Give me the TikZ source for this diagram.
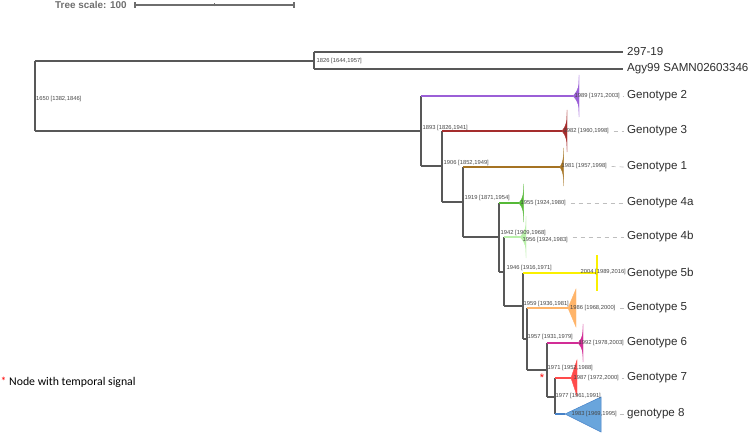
\documentclass[tikz,border=0pt]{standalone}
\usepackage{fontspec}
\setmainfont{Liberation Sans}
\newfontfamily\legendfont{Carlito}
\definecolor{treegray}{RGB}{88,88,88}
\definecolor{lblgray}{RGB}{70,70,70}
\definecolor{tipgray}{RGB}{45,45,45}
\definecolor{guidegray}{RGB}{190,190,190}
\definecolor{scalegray}{RGB}{110,110,110}
\definecolor{cTwo}{RGB}{155,95,215}
\definecolor{cThree}{RGB}{165,45,45}
\definecolor{cOne}{RGB}{165,115,35}
\definecolor{cFourA}{RGB}{85,185,55}
\definecolor{cFourB}{RGB}{185,240,170}
\definecolor{cFiveB}{RGB}{250,240,0}
\definecolor{cFive}{RGB}{255,180,105}
\definecolor{cSix}{RGB}{210,45,150}
\definecolor{cSeven}{RGB}{255,75,75}
\definecolor{cEight}{RGB}{105,165,220}
\definecolor{cEightLine}{RGB}{70,130,200}
\tikzset{
  branch/.style={draw=treegray, line width=1.2pt},
  cbranch/.style={line width=1.2pt},
  small/.style={font=\fontsize{5.8}{6}\selectfont, text=lblgray, inner sep=0.5pt, anchor=west},
  tiptext/.style={font=\fontsize{11.6}{13}\selectfont, text=tipgray, inner sep=0pt, anchor=west},
  guide/.style={draw=guidegray, dash pattern=on 4pt off 4pt, line width=0.7pt},
}
% spike-shaped collapsed clade: apex, width, half-height
\newcommand{\spikeclade}[4]{%
  \filldraw[fill=#4, draw=#4, line width=0.4pt, line join=round] (#1) .. controls +(#2,-0.3*#3) and +(0,0.55*#3) .. ++(#2,-#3)
     -- ++(0,2*#3) .. controls +(0,-0.55*#3) and +(#2,0.3*#3) .. (#1) -- cycle;}
\newcommand{\triclade}[4]{%
  \filldraw[fill=#4, draw=#4, line width=0.4pt] (#1) -- ++(#2,-#3) -- ++(0,2*#3) -- cycle;}
\begin{document}
\begin{tikzpicture}[x=1pt,y=-1pt]
\useasboundingbox (0,0) rectangle (750,433);
% tree scale
\node[font=\fontsize{9.9}{11}\selectfont\bfseries, text=scalegray, anchor=west, inner sep=0pt] (scale) at (55,5) {Tree scale: 100};
\coordinate (sA) at (135,5);
\coordinate (sB) at (294,5);
\coordinate (sM) at (214.5,5);
\draw[draw=scalegray, line width=1.1pt] (sA) -- (sB);
\draw[draw=scalegray, line width=1.1pt] ([yshift=-3pt]sA) -- ([yshift=3pt]sA);
\draw[draw=scalegray, line width=1.1pt] ([yshift=-3pt]sB) -- ([yshift=3pt]sB);
\draw[draw=scalegray, line width=0.8pt] ([yshift=-1.5pt]sM) -- ([yshift=1.5pt]sM);

% internal nodes
\coordinate (root) at (35,96);
\coordinate (nOut) at (314,61);
\coordinate (nA) at (421,131);
\coordinate (nB) at (442,166);
\coordinate (nC) at (463,202);
\coordinate (nD) at (499,237);
\coordinate (nE) at (504,272);
\coordinate (nF) at (523,306);
\coordinate (nG) at (527,339);
\coordinate (nH) at (547,370);
\coordinate (nI) at (555,397);
% leaves (clade apexes)
\coordinate (t297) at (623,52);
\coordinate (tAgy) at (623,69);
\coordinate (g2) at (573,96);
\coordinate (g3) at (562,131);
\coordinate (g1) at (560,167);
\coordinate (g4a) at (519,203);
\coordinate (g4b) at (520,237);
\coordinate (g5b) at (597,273);
\coordinate (g5) at (568,308);
\coordinate (g6) at (578,343);
\coordinate (g7) at (571,378);
\coordinate (g8) at (565,414);

% vertical (gray) parts
\draw[branch] (root|-nOut) -- (root|-nA);
\draw[branch] (nOut|-t297) -- (nOut|-tAgy);
\draw[branch] (nA|-g2) -- (nA|-nB);
\draw[branch] (nB|-g3) -- (nB|-nC);
\draw[branch] (nC|-g1) -- (nC|-nD);
\draw[branch] (nD|-g4a) -- (nD|-nE);
\draw[branch] (nE|-g4b) -- (nE|-nF);
\draw[branch] (nF|-g5b) -- (nF|-nG);
\draw[branch] (nG|-g5) -- (nG|-nH);
\draw[branch] (nH|-g6) -- (nH|-nI);
\draw[branch] (nI|-g7) -- (nI|-g8);
% horizontal gray parts
\draw[branch] (root|-nOut) -- (nOut);
\draw[branch] (root|-nA) -- (nA);
\draw[branch] (nOut|-t297) -- (t297);
\draw[branch] (nOut|-tAgy) -- (tAgy);
\draw[branch] (nA|-nB) -- (nB);
\draw[branch] (nB|-nC) -- (nC);
\draw[branch] (nC|-nD) -- (nD);
\draw[branch] (nD|-nE) -- (nE);
\draw[branch] (nE|-nF) -- (nF);
\draw[branch] (nF|-nG) -- (nG);
\draw[branch] (nG|-nH) -- (nH);
\draw[branch] (nH|-nI) -- (nI);
% coloured leaf branches
\draw[cbranch, draw=cTwo] (nA|-g2) -- (g2);
\draw[cbranch, draw=cThree] (nB|-g3) -- (g3);
\draw[cbranch, draw=cOne] (nC|-g1) -- (g1);
\draw[cbranch, draw=cFourA] (nD|-g4a) -- (g4a);
\draw[cbranch, draw=cFourB] (nE|-g4b) -- (g4b);
\draw[cbranch, draw=cFiveB] (nF|-g5b) -- (g5b);
\draw[cbranch, draw=cFive] (nG|-g5) -- (g5);
\draw[cbranch, draw=cSix] (nH|-g6) -- (g6);
\draw[cbranch, draw=cSeven] (nI|-g7) -- (g7);
\draw[cbranch, draw=cEightLine] (nI|-g8) -- (g8);

% collapsed clades
\spikeclade{g2}{6}{21}{cTwo}
\spikeclade{g3}{5}{21}{cThree}
\spikeclade{g1}{3.5}{19}{cOne}
\spikeclade{g4a}{4.5}{19}{cFourA}
\spikeclade{g4b}{6}{21}{cFourB}
\fill[cFiveB] (596.2,255) rectangle (598.2,291);
\triclade{g5}{8}{19}{cFive}
\spikeclade{g6}{5}{19}{cSix}
\triclade{g7}{6}{18}{cSeven}
\filldraw[fill=cEight, draw=cEightLine, line width=0.5pt] (g8) -- ++(36,-17) -- ++(0,35) -- cycle;

% internal node labels
\node[small] (lRoot) at (35.5,99) {1650 [1382,1846]};
\node[small] (lOut) at (316,61) {1826 [1644,1957]};
\node[small] (lA) at (422,128) {1893 [1826,1941]};
\node[small] (lB) at (443,163) {1906 [1852,1949]};
\node[small] (lC) at (464,198) {1919 [1871,1954]};
\node[small] (lD) at (500,233) {1942 [1909,1968]};
\node[small] (lE) at (506,268.5) {1946 [1916,1971]};
\node[small] (lF) at (523,303.5) {1959 [1936,1981]};
\node[small] (lG) at (527,337) {1957 [1931,1979]};
\node[small] (lH) at (547,368) {1971 [1952,1988]};
\node[small] (lI) at (555,396) {1977 [1961,1991]};
% leaf date labels
\node[small] (d2) at (574,96) {1989 [1971,2003]};
\node[small] (d3) at (563,131) {1982 [1960,1998]};
\node[small] (d1) at (561,166.5) {1981 [1957,1998]};
\node[small] (d4a) at (520,203) {1955 [1924,1980]};
\node[small] (d4b) at (522,240) {1956 [1924,1983]};
\node[small] (d5b) at (580,271.5) {2004 [1989,2016]};
\node[small] (d5) at (569.5,308) {1986 [1968,2000]};
\node[small] (d6) at (578,343) {1992 [1978,2003]};
\node[small] (d7) at (573,378) {1987 [1972,2000]};
\node[small] (d8) at (571,414) {1983 [1969,1995]};

% tip labels
\node[tiptext] (x297) at (627,52) {297-19};
\node[tiptext] (xAgy) at (627,69) {Agy99 SAMN02603346};
\node[tiptext] (x2) at (627,96) {Genotype 2};
\node[tiptext] (x3) at (627,131) {Genotype 3};
\node[tiptext] (x1) at (627,167) {Genotype 1};
\node[tiptext] (x4a) at (627,203) {Genotype 4a};
\node[tiptext] (x4b) at (627,237) {Genotype 4b};
\node[tiptext] (x5b) at (627,273) {Genotype 5b};
\node[tiptext] (x5) at (627,308) {Genotype 5};
\node[tiptext] (x6) at (627,343) {Genotype 6};
\node[tiptext] (x7) at (627,378) {Genotype 7};
\node[tiptext] (x8) at (627,414) {genotype 8};

% dashed guides
\draw[guide] ([xshift=2pt]d2.east) -- ([xshift=-3pt]x2.west);
\draw[guide] ([xshift=4pt]d3.east) -- ([xshift=-3pt]x3.west);
\draw[guide] ([xshift=4pt]d1.east) -- ([xshift=-3pt]x1.west);
\draw[guide] ([xshift=4pt]d4a.east) -- ([xshift=-3pt]x4a.west);
\draw[guide] ([xshift=4pt]d4b.east|-x4b.west) -- ([xshift=-3pt]x4b.west);
\draw[guide] ([xshift=4pt]d5.east) -- ([xshift=-3pt]x5.west);
\draw[guide] ([xshift=2pt]d7.east) -- ([xshift=-3pt]x7.west);
\draw[guide] ([xshift=2pt]d8.east) -- ([xshift=-3pt]x8.west);

% temporal signal marker
\node[text=red, font=\fontsize{11}{12}\selectfont, inner sep=0pt] (star) at (542,378) {*};
% legend
\node[text=red, font=\legendfont\fontsize{11.8}{13}\selectfont, inner sep=0pt, anchor=west] (lstar) at (0.5,381) {*};
\node[text=black, font=\legendfont\fontsize{11.8}{13}\selectfont, inner sep=0pt, anchor=west] (legend) at (9,382) {Node with temporal signal};
\end{tikzpicture}
\end{document}
